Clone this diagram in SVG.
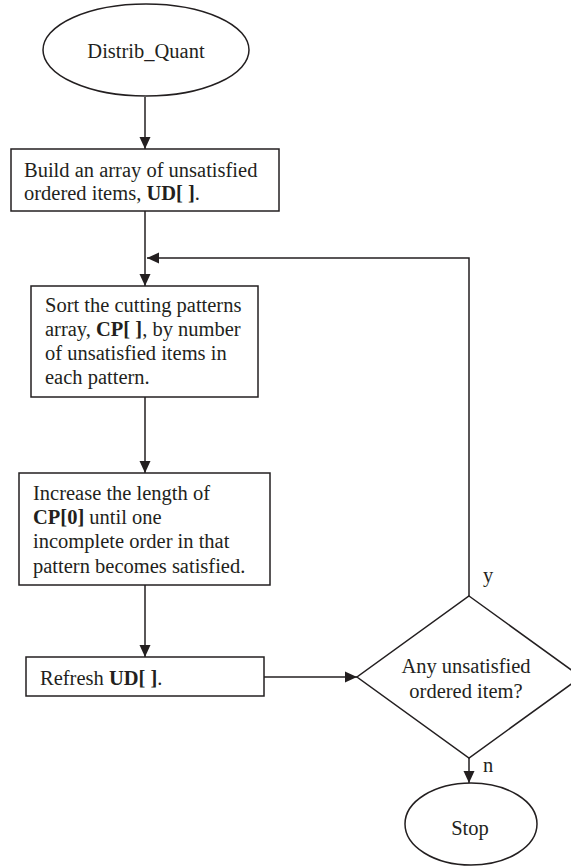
<svg xmlns="http://www.w3.org/2000/svg" width="571" height="866" viewBox="0 0 571 866">
<defs>
<marker id="ah" viewBox="0 0 12 12" refX="12" refY="6" markerWidth="12" markerHeight="12" markerUnits="userSpaceOnUse" orient="auto">
<path d="M0,0.5 L12,6 L0,11.5 Z" fill="#231f20"/>
</marker>
<style>
.s{fill:#fff;stroke:#231f20;stroke-width:1.5}
.c{fill:none;stroke:#231f20;stroke-width:1.5}
text{font-family:"Liberation Serif","Times New Roman",serif;font-size:20.5px;fill:#231f20}
.m{text-anchor:middle}
.b{font-weight:bold}
</style>
</defs>
<rect width="571" height="866" fill="#fff"/>
<g id="connectors">
<line class="c" x1="145" y1="97" x2="145" y2="149" marker-end="url(#ah)"/>
<line class="c" x1="145" y1="211" x2="145" y2="286" marker-end="url(#ah)"/>
<polyline class="c" points="469,596 469,258 147,258" marker-end="url(#ah)"/>
<line class="c" x1="145" y1="397" x2="145" y2="473" marker-end="url(#ah)"/>
<line class="c" x1="145" y1="585" x2="145" y2="657" marker-end="url(#ah)"/>
<line class="c" x1="264" y1="677" x2="357" y2="677" marker-end="url(#ah)"/>
<line class="c" x1="469" y1="758" x2="469" y2="783" marker-end="url(#ah)"/>
<text x="483" y="582">y</text>
<text x="483" y="772">n</text>
</g>
<g id="start">
<ellipse class="s" cx="146" cy="50" rx="103" ry="46"/>
<text class="m" x="146" y="58">Distrib_Quant</text>
</g>
<g id="build">
<rect class="s" x="11" y="149" width="268" height="62"/>
<text x="24" y="177">Build an array of unsatisfied</text>
<text x="24" y="200">ordered items, <tspan class="b">UD[ ]</tspan>.</text>
</g>
<g id="sort">
<rect class="s" x="31" y="286" width="227" height="111"/>
<text x="45" y="312">Sort the cutting patterns</text>
<text x="45" y="336">array, <tspan class="b">CP[ ]</tspan>, by number</text>
<text x="45" y="360">of unsatisfied items in</text>
<text x="45" y="384">each pattern.</text>
</g>
<g id="increase">
<rect class="s" x="19" y="473" width="251" height="112"/>
<text x="33" y="500">Increase the length of</text>
<text x="33" y="524"><tspan class="b">CP[0]</tspan> until one</text>
<text x="33" y="548">incomplete order in that</text>
<text x="33" y="573">pattern becomes satisfied.</text>
</g>
<g id="refresh">
<rect class="s" x="26" y="657" width="238" height="39"/>
<text x="40" y="685">Refresh <tspan class="b">UD[ ]</tspan>.</text>
</g>
<g id="decision">
<polygon class="s" points="469,596 581,677 469,758 357,677"/>
<text class="m" x="466" y="673">Any unsatisfied</text>
<text class="m" x="466" y="698">ordered item?</text>
</g>
<g id="stop">
<ellipse class="s" cx="471" cy="824" rx="66" ry="41"/>
<text class="m" x="470" y="835">Stop</text>
</g>
</svg>
